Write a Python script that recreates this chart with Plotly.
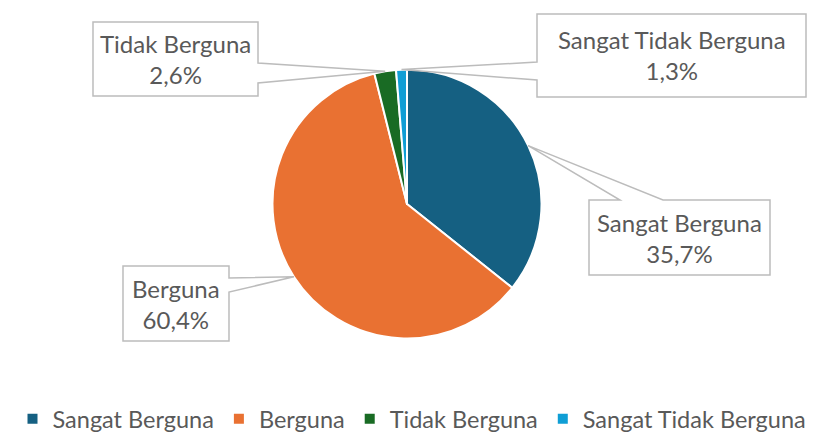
import math
import plotly.graph_objects as go

# ---- data ----
labels = ["Sangat Berguna", "Berguna", "Tidak Berguna", "Sangat Tidak Berguna"]
values = [35.7, 60.4, 2.6, 1.3]
colors = ["#156082", "#E97132", "#196B24", "#0F9ED5"]

# ---- layout constants (pixels) ----
W, H = 824, 432
CX, CY, R = 407, 204, 134.5
TEXT_COLOR = "#595959"
FONT = "Lato"

# callout boxes: (x0, y0, x1, y1), side of wedge, wedge base positions
callouts = {
    "Sangat Berguna": ((589, 200, 770, 275), "top", 620, 663),
    "Berguna": ((123, 266, 229, 341), "right", 278, 292),
    "Tidak Berguna": ((93, 22, 258, 96), "right", 63, 83),
    "Sangat Tidak Berguna": ((537, 14, 806, 97), "left", 62, 80),
}


def P(x, y):
    return x / W, 1 - y / H


def fmt(v):
    return f"{v:.1f}".replace(".", ",") + "%"


def callout_path(box, side, a, b, tip):
    x0, y0, x1, y1 = box
    pts = [(x0, y0)]
    if side == "top":
        pts += [(a, y0), tip, (b, y0)]
    pts += [(x1, y0)]
    if side == "right":
        pts += [(x1, a), tip, (x1, b)]
    pts += [(x1, y1), (x0, y1)]
    if side == "left":
        pts += [(x0, b), tip, (x0, a)]
    out = []
    for i, (x, y) in enumerate(pts):
        px, py = P(x, y)
        out.append(("M" if i == 0 else "L") + f"{px:.5f},{py:.5f}")
    return " ".join(out) + " Z"


fig = go.Figure(
    go.Pie(
        labels=labels,
        values=values,
        sort=False,
        direction="clockwise",
        rotation=0,
        textinfo="none",
        hoverinfo="label+percent",
        marker=dict(colors=colors, line=dict(color="white", width=2)),
        domain=dict(
            x=[(CX - R) / W, (CX + R) / W],
            y=[1 - (CY + R) / H, 1 - (CY - R) / H],
        ),
    )
)

total = sum(values)
cum = 0.0
shapes = []
annotations = []
for lab, v in zip(labels, values):
    mid = (cum + v / 2) / total * 2 * math.pi
    cum += v
    tip = (CX + R * math.sin(mid), CY - R * math.cos(mid))
    box, side, a, b = callouts[lab]
    shapes.append(dict(
        type="path", xref="paper", yref="paper",
        path=callout_path(box, side, a, b, tip),
        fillcolor="white", line=dict(color="#BCBCBC", width=1.5),
    ))
    bx, by = P((box[0] + box[2]) / 2, (box[1] + box[3]) / 2)
    annotations.append(dict(
        xref="paper", yref="paper", x=bx, y=by,
        xanchor="center", yanchor="middle", showarrow=False,
        text=f"{lab}<br>{fmt(v)}",
        font=dict(family=FONT, size=24, color=TEXT_COLOR),
    ))

fig.update_layout(
    width=W, height=H,
    margin=dict(l=0, r=0, t=0, b=0, autoexpand=False),
    paper_bgcolor="white", plot_bgcolor="white",
    shapes=shapes, annotations=annotations,
    showlegend=True,
    legend=dict(
        orientation="h", x=0.5, xanchor="center",
        y=1 - 419 / H, yanchor="middle",
        font=dict(family=FONT, size=23.5, color=TEXT_COLOR),
        traceorder="normal",
    ),
)

fig.write_html(
    "out.html",
    config={"displayModeBar": False},
    post_script="document.body.style.margin='0px';document.body.style.overflow='hidden';",
)
